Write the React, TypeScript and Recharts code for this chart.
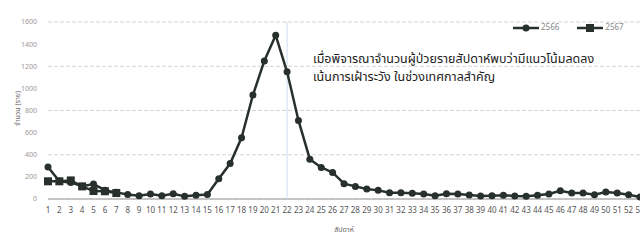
import React from 'react';
import { LineChart, Line, XAxis, YAxis, CartesianGrid, Legend, ReferenceLine } from 'recharts';

const weeks = ['1', '2', '3', '4', '5', '6', '7', '8', '9', '10', '11', '12', '13', '14', '15', '16', '17', '18', '19', '20', '21', '22', '23', '24', '25', '26', '27', '28', '29', '30', '31', '32', '33', '34', '35', '36', '37', '38', '39', '40', '41', '42', '43', '44', '45', '46', '47', '48', '49', '50', '51', '52', '53'];

const cases2566 = [290, 160, 150, 115, 135, 80, 60, 40, 30, 45, 30, 48, 24, 33, 40, 183, 320, 553, 940, 1248, 1480, 1150, 710, 360, 285, 240, 138, 114, 90, 78, 57, 57, 51, 45, 30, 48, 45, 36, 27, 30, 33, 27, 24, 33, 45, 75, 54, 54, 39, 63, 54, 39, 18];

const cases2567 = [160, 160, 168, 114, 72, 70, 54];

const yTicks = [0, 200, 400, 600, 800, 1000, 1200, 1400, 1600];

const seriesNames = ['2566', '2567'];

const noteLines = [
  'เมื่อพิจารณาจำนวนผู้ป่วยรายสัปดาห์พบว่ามีแนวโน้มลดลง',
  'เน้นการเฝ้าระวัง ในช่วงเทศกาลสำคัญ',
];

const data = weeks.map((w, i) => ({
  week: w,
  y2566: cases2566[i],
  y2567: i < cases2567.length ? cases2567[i] : null,
}));

const INK = '#27302b';
const FONT = '"Noto Sans Thai", "Liberation Sans", "Noto Sans", sans-serif';

const SquareDot = (props: any) => {
  const { cx, cy, value } = props;
  if (value == null || cx == null || cy == null) return null;
  return <rect x={cx - 4} y={cy - 4} width={8} height={8} fill={INK} />;
};

const LegendBox = () => (
  <div style={{ display: 'flex', alignItems: 'center', fontFamily: FONT, fontSize: 8, color: '#888' }}>
    <svg width={26} height={10}>
      <line x1={0} y1={5} x2={26} y2={5} stroke={INK} strokeWidth={2.5} />
      <circle cx={13} cy={5} r={3.5} fill={INK} />
    </svg>
    <span style={{ marginLeft: 2, marginRight: 18 }}>{seriesNames[0]}</span>
    <svg width={26} height={10}>
      <line x1={0} y1={5} x2={26} y2={5} stroke={INK} strokeWidth={2.5} />
      <rect x={9} y={1} width={8} height={8} fill={INK} />
    </svg>
    <span style={{ marginLeft: 2 }}>{seriesNames[1]}</span>
  </div>
);

const YTitle = (props: any) => {
  const cy = props.viewBox ? props.viewBox.y + props.viewBox.height / 2 - 2 : 108;
  return (
    <text x={18} y={cy} transform={`rotate(-90 18 ${cy})`} textAnchor="middle" dominantBaseline="middle"
      fontSize={7} fill="#666" fontFamily={FONT}>
      จำนวน (ราย)
    </text>
  );
};

export default function App() {
  return (
    <div style={{ position: 'fixed', left: 0, top: 0, width: 640, height: 248, overflow: 'hidden', background: '#fff' }}>
      <LineChart width={640} height={248} data={data} margin={{ top: 22, right: 0, left: 0, bottom: 16 }}>
        <CartesianGrid horizontal vertical={false} stroke="#d4d4d4" strokeDasharray="4 2" />
        <XAxis dataKey="week" axisLine={false} tickLine={false} interval={0} height={33}
          tick={{ fontSize: 8, fill: '#555', fontFamily: FONT }}
          label={{ value: 'สัปดาห์', position: 'insideBottom', offset: 0, fontSize: 7, fill: '#666', fontFamily: FONT }} />
        <YAxis width={48} domain={[0, 1600]} ticks={yTicks} axisLine={false} tickLine={false} tickMargin={5}
          tick={{ fontSize: 7, fill: '#999', fontFamily: FONT }} label={<YTitle />} />
        <ReferenceLine y={0} stroke="#b5b5b5" strokeWidth={1.5} />
        <ReferenceLine x="22" stroke="#cfdcee" strokeWidth={1} />
        <Legend layout="vertical" align="center" verticalAlign="middle" content={<LegendBox />}
          wrapperStyle={{ top: 22, left: 513, width: 125 }} />
        <Line type="linear" dataKey="y2566" name="2566" stroke={INK} strokeWidth={2.5}
          dot={{ r: 3.5, fill: INK, stroke: INK, strokeWidth: 0 }} isAnimationActive={false} />
        <Line type="linear" dataKey="y2567" name="2567" stroke={INK} strokeWidth={2.5}
          dot={<SquareDot />} isAnimationActive={false} connectNulls={false} />
      </LineChart>
      <div style={{ position: 'absolute', left: 313, top: 51, fontFamily: FONT, fontSize: 12.5, lineHeight: '18px', color: '#222', whiteSpace: 'nowrap' }}>
        {noteLines.map((t) => (
          <div key={t}>{t}</div>
        ))}
      </div>
    </div>
  );
}
